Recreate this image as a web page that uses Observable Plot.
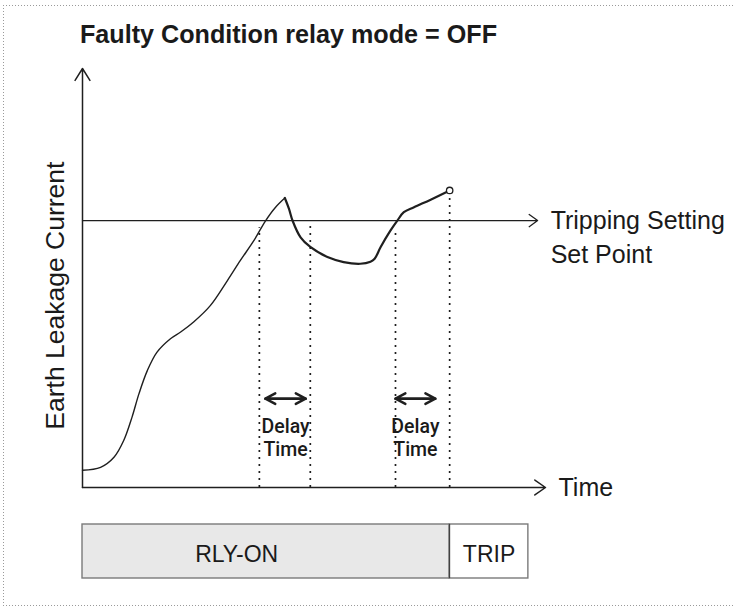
<!DOCTYPE html>
<html>
<head>
<meta charset="utf-8">
<script src="https://cdn.jsdelivr.net/npm/d3@7"></script>
<script src="https://cdn.jsdelivr.net/npm/@observablehq/plot@0.6"></script>
<style>
  body { margin: 0; background: #fff; }
  #wrap { position: relative; width: 734px; height: 607px; overflow: hidden; color: #1a1a1a;
          font-family: "Liberation Sans", Arial, sans-serif; }
  .bh { position: absolute; left: 3px; width: 740px; height: 1px;
        background: repeating-linear-gradient(90deg, #9a9a9a 0 1px, transparent 1px 3px); }
  .bv { position: absolute; left: 3px; top: 5px; width: 1px; height: 601px;
        background: repeating-linear-gradient(180deg, #9a9a9a 0 1px, transparent 1px 3px); }
  #title { position: absolute; left: 0; top: 0; }
  #main { position: absolute; left: 0; top: 55px; }
  #bar { position: absolute; left: 0; top: 515px; }
</style>
</head>
<body>
<div id="wrap">
  <div class="bh" style="top:5px"></div>
  <div class="bh" style="top:605px"></div>
  <div class="bv"></div>
  <div id="title"></div>
  <div id="main"></div>
  <div id="bar"></div>
</div>
<script>
// ---- data (time and current in arbitrary diagram units, 0..100) ----
const titleText = "Faulty Condition relay mode = OFF";
const timeMax = 100;
const currentMax = 100;
const setPoint = 63.7;
const setPointArrowEnd = 98.3;

// rising part of the leakage current, up to the first peak
const riseTime    = [0, 3.9, 6.8, 8.9, 10.7, 12.2, 14.0, 16.1, 19.0, 21.2, 24.0, 27.6, 31.3, 34.1, 37.0, 39.5, 41.7, 43.7];
const riseCurrent = [4.1, 4.8, 7.2, 11.2, 16.8, 22.4, 27.9, 32.3, 35.5, 37.1, 39.5, 43.4, 49.4, 54.2, 58.9, 63.6, 66.9, 69.1];
// after the peak: fall, dip, second rise until the trip
const fallTime    = [43.7, 44.6, 45.4, 47.1, 49.2, 52.9, 56.4, 60.0, 62.2, 63.1, 64.4, 66.5, 68.0, 69.4, 71.6, 75.2, 79.3];
const fallCurrent = [69.1, 66.5, 63.6, 59.7, 57.4, 55.0, 53.8, 53.4, 53.9, 54.6, 57.4, 61.3, 63.7, 65.7, 66.9, 68.7, 70.9];

// dotted markers (start / end of each delay)
const markerTimes = [38.2, 49.2, 67.6, 79.3];
const markerTops  = [62.0, 63.7, 61.0, 70.2];

// delay-time annotations
const delayStart = [39.5, 67.6];
const delayEnd   = [48.2, 76.2];
const delayArrowLevel = 21.2;
const delayTextLevel = 7.6;
const delayLabel = "Delay\nTime";

const yLabel = "Earth Leakage Current";
const yLabelCenter = 45.8;
const setPointLabel = "Tripping Setting\nSet Point";
const xLabel = "Time";

// relay state bar
const stateNames  = ["RLY-ON", "TRIP"];
const stateStart  = [0, 79.3];
const stateEnd    = [79.3, 96.3];
const stateLabelAt = [33.3, 87.8];
const stateFills  = ["#e8e8e8", "#ffffff"];

// ---- build tables ----
const rise = riseTime.map((t, i) => ({t, v: riseCurrent[i]}));
const fall = fallTime.map((t, i) => ({t, v: fallCurrent[i]}));
const markers = markerTimes.map((t, i) => ({t, top: markerTops[i]}));
const delays = delayStart.map((s, i) => ({s, e: delayEnd[i], m: (s + delayEnd[i]) / 2}));
const states = stateNames.map((name, i) => ({name, start: stateStart[i], end: stateEnd[i], at: stateLabelAt[i]}));
const tripPoint = fall[fall.length - 1];

const ink = "#1f1f1f";
const font = '"Liberation Sans", Arial, sans-serif';

// ---- title (bold, fitted to the reference's cap height and width) ----
const titleFamily = '"Liberation Sans", Arial, sans-serif';
const cv = document.createElement("canvas").getContext("2d");
cv.font = `bold 100px ${titleFamily}`;
const capRatio = cv.measureText("F").actualBoundingBoxAscent / 100 || 0.72;
const titleSize = 18.2 / capRatio;
const tsvg = d3.create("svg").attr("width", 734).attr("height", 55);
tsvg.append("text")
  .attr("x", 80).attr("y", 43)
  .attr("font-family", titleFamily).attr("font-weight", "bold").attr("font-size", titleSize)
  .attr("fill", "#1a1a1a")
  .attr("textLength", 417).attr("lengthAdjust", "spacingAndGlyphs")
  .text(titleText);
document.getElementById("title").appendChild(tsvg.node());

const main = Plot.plot({
  width: 734, height: 460,
  marginLeft: 82, marginRight: 189, marginTop: 13, marginBottom: 28,
  x: {domain: [0, timeMax], axis: null},
  y: {domain: [0, currentMax], axis: null},
  style: {background: "transparent", overflow: "visible", fontFamily: font, color: "#1a1a1a"},
  marks: [
    // axes with arrows
    Plot.arrow([{x1: 0, y1: 0, x2: 0, y2: currentMax}], {x1: "x1", y1: "y1", x2: "x2", y2: "y2",
      stroke: ink, strokeWidth: 1.5, headAngle: 64, headLength: 14}),
    Plot.arrow([{x1: 0, y1: 0, x2: timeMax, y2: 0}], {x1: "x1", y1: "y1", x2: "x2", y2: "y2",
      stroke: ink, strokeWidth: 1.5, headAngle: 70, headLength: 13}),
    // set point line
    Plot.arrow([{x1: 0, x2: setPointArrowEnd, y: setPoint}], {x1: "x1", x2: "x2", y1: "y", y2: "y",
      stroke: ink, strokeWidth: 1.3, headAngle: 72, headLength: 12}),
    // dotted markers
    Plot.ruleX(markers, {x: "t", y1: 0, y2: "top", stroke: ink, strokeWidth: 1.7, strokeDasharray: "2,5"}),
    // leakage current curve
    Plot.line(rise, {x: "t", y: "v", curve: "catmull-rom", stroke: ink, strokeWidth: 1.4}),
    Plot.line(fall, {x: "t", y: "v", curve: "catmull-rom", stroke: ink, strokeWidth: 2.2}),
    Plot.dot([tripPoint], {x: "t", y: "v", r: 3.2, stroke: ink, strokeWidth: 1.3, fill: "white"}),
    // delay arrows (double headed)
    Plot.arrow(delays, {x1: "s", x2: "e", y1: () => delayArrowLevel, y2: () => delayArrowLevel,
      stroke: ink, strokeWidth: 2.5, headAngle: 56, headLength: 6.7}),
    Plot.arrow(delays, {x1: "e", x2: "s", y1: () => delayArrowLevel, y2: () => delayArrowLevel,
      stroke: ink, strokeWidth: 2.5, headAngle: 56, headLength: 6.7}),
    Plot.text(delays, {x: "m", y: () => delayTextLevel, text: () => delayLabel, lineAnchor: "bottom",
      lineHeight: 1.15, fontSize: 19.5, fontWeight: 500, fontFamily: 'Roboto, "Liberation Sans", sans-serif', fill: "#1a1a1a"}),
    // labels
    Plot.text([yLabel], {frameAnchor: "left", y: () => yLabelCenter, text: (d) => d, rotate: -90,
      dx: -19, lineAnchor: "bottom", textAnchor: "middle", fontSize: 26.5, fill: "#1a1a1a"}),
    Plot.text([setPointLabel], {x: () => setPointArrowEnd, y: () => setPoint, text: (d) => d, dx: 13, dy: -15,
      textAnchor: "start", lineAnchor: "top", lineHeight: 1.34, fontSize: 25, fill: "#1a1a1a"}),
    Plot.text([xLabel], {x: () => timeMax, y: () => 0, text: (d) => d, dx: 13,
      textAnchor: "start", lineAnchor: "middle", fontSize: 25, fill: "#1a1a1a"})
  ]
});
document.getElementById("main").appendChild(main);

const bar = Plot.plot({
  width: 734, height: 92,
  marginLeft: 82, marginRight: 189, marginTop: 9, marginBottom: 29,
  x: {domain: [0, timeMax], axis: null},
  y: {axis: null, padding: 0},
  color: {domain: stateNames, range: stateFills},
  style: {background: "transparent", overflow: "visible", fontFamily: font, color: "#1a1a1a"},
  marks: [
    Plot.barX(states, {x1: "start", x2: "end", y: () => "relay", fill: "name", stroke: "#7a7a7a", strokeWidth: 1.4}),
    Plot.ruleX([stateEnd[0]], {x: (d) => d, stroke: "#333", strokeWidth: 1}),
    Plot.text(states, {x: "at", y: () => "relay", text: "name", fontSize: 23, dy: 3, fill: "#1a1a1a"})
  ]
});
document.getElementById("bar").appendChild(bar);
</script>
</body>
</html>
